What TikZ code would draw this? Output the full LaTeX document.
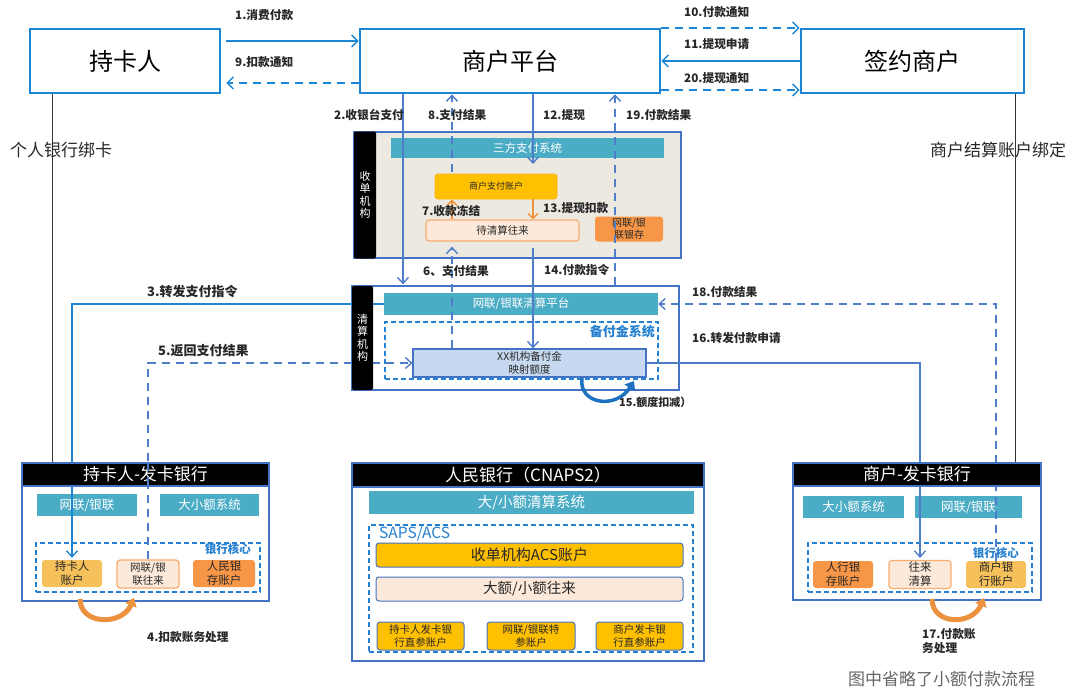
\documentclass[tikz,border=0pt]{standalone}
\usepackage{fontspec}
\setmainfont{Noto Sans CJK SC}
\usetikzlibrary{arrows.meta}

\definecolor{topblue}{RGB}{28,134,214}
\definecolor{lineblue}{RGB}{78,126,202}
\definecolor{boxblue}{RGB}{68,114,196}
\definecolor{dashblue}{RGB}{38,128,208}
\definecolor{barteal}{RGB}{75,172,198}
\definecolor{beige}{RGB}{236,233,224}
\definecolor{cgold}{RGB}{255,192,0}
\definecolor{lgold}{RGB}{246,192,90}
\definecolor{corange}{RGB}{247,150,70}
\definecolor{peach}{RGB}{253,233,217}
\definecolor{peachline}{RGB}{247,172,112}
\definecolor{lblue}{RGB}{198,217,241}
\definecolor{curveblue}{RGB}{30,112,192}
\definecolor{curveorange}{RGB}{236,146,62}
\definecolor{darktext}{RGB}{40,40,40}

\newcommand\fsz[2]{\fontsize{#1}{#2}\selectfont}

\tikzset{
  topbox/.style={draw=topblue, line width=2.6pt, fill=white, inner sep=0pt,
    minimum height=64pt, font=\fsz{24}{28}},
  tarrow/.style={draw=topblue, line width=1.5pt, -{Straight Barb[length=6pt,width=12pt]}},
  mconn/.style={draw=lineblue, line width=1.4pt, -{Straight Barb[length=6pt,width=11pt]}},
  oconn/.style={draw=curveorange, line width=1.4pt, -{Straight Barb[length=5pt,width=10pt]}},
  dsh/.style={dash pattern=on 8pt off 6pt},
  lbl/.style={anchor=west, inner sep=0pt, text=darktext, font=\bfseries\fsz{11.7}{14}},
  outerbox/.style={draw=boxblue, line width=1.2pt, inner sep=0pt},
  tabbox/.style={fill=black, rounded corners=2pt, text=white, align=center,
    inner sep=0pt, font=\fsz{11}{12.5}},
  hdr/.style={fill=black, draw=boxblue, line width=1.2pt, text=white, inner sep=0pt,
    font=\fsz{17}{20}},
  bar/.style={fill=barteal, text=white, inner sep=0pt, font=\fsz{11.5}{14}},
  acct/.style={rounded corners=3pt, align=center, inner sep=0pt, text=darktext,
    font=\fsz{11.5}{14}},
  dbox/.style={draw=dashblue, line width=1.2pt, dash pattern=on 5pt off 3pt, inner sep=0pt},
  blbl/.style={text=dashblue, inner sep=0pt, font=\bfseries\fsz{11.5}{14}},
  bindline/.style={draw=black!80, line width=1pt},
  bigcurve/.style={line width=3.5pt, -{Triangle[length=8pt,width=12pt]}},
}

\begin{document}
\begin{tikzpicture}[x=1pt,y=-1pt]
\useasboundingbox (0,0) rectangle (1080,696);
\fill[white] (0,0) rectangle (1080,696);

% ---------- column and row helpers ----------
\coordinate (xa) at (403,0);
\coordinate (xb) at (452,0);
\coordinate (xc) at (533,0);
\coordinate (xd) at (615,0);
\coordinate (xl) at (52,0);
\coordinate (xr) at (1015,0);
\coordinate (y28) at (0,28);
\coordinate (y41) at (0,41);
\coordinate (y61) at (0,61);
\coordinate (y83) at (0,83);
\coordinate (y90) at (0,90);

% ---------- top parties ----------
\node[topbox, minimum width=190pt] (ch) at (125,61) {持卡人};
\node[topbox, minimum width=300pt] (mp) at (510,61) {商户平台};
\node[topbox, minimum width=223pt] (sm) at (912.5,61) {签约商户};

% ---------- acquirer ----------
\node[outerbox, fill=beige, minimum width=327pt, minimum height=126pt] (acq) at (517.5,195) {};
\node[bar, minimum width=273pt, minimum height=20pt] (tpp) at (527.5,148) {三方支付系统};
\node[acct, fill=cgold, draw=cgold!85!orange, line width=0.8pt, minimum width=122pt,
  minimum height=25pt, font=\fsz{9}{11}] (mpa) at (496,186.5) {商户支付账户};
\node[acct, fill=peach, draw=peachline, line width=1.2pt, minimum width=153pt,
  minimum height=21pt, font=\fsz{10.5}{12}] (dqs) at (502.5,230.5) {待清算往来};
\node[acct, fill=corange, minimum width=68pt, minimum height=25pt,
  font=\fsz{10}{12}] (wly) at (629,229) {网联/银\\联银存};

% ---------- clearing house ----------
\node[outerbox, minimum width=327pt, minimum height=104pt] (clr) at (515.5,338) {};
\node[bar, minimum width=274pt, minimum height=22pt] (wlp) at (521,304) {网联/银联清算平台};
\node[dbox, minimum width=273pt, minimum height=57pt] (bfj) at (521.5,350.5) {};
\node[blbl, anchor=east, font=\bfseries\fsz{13}{15}] (bfjl) at (655,332) {备付金系统};
\node[acct, rounded corners=0pt, fill=lblue, draw=boxblue, line width=1.2pt,
  minimum width=233pt, minimum height=28pt, font=\fsz{10.5}{12.5}] (xx) at (529.5,363) {XX机构备付金\\映射额度};

% ---------- cardholder bank ----------
\node[outerbox, minimum width=247pt, minimum height=138pt] (lb) at (145.5,532) {};
\node[bar, minimum width=100pt, minimum height=22pt, font=\fsz{12.5}{15}] (lbw) at (87,505) {网联/银联};
\node[bar, minimum width=99pt, minimum height=22pt, font=\fsz{12.5}{15}] (lbd) at (209.5,505) {大小额系统};
\node[dbox, minimum width=224pt, minimum height=49pt] (lbc) at (148,567.5) {};
\node[blbl, anchor=east] (lbcl) at (251,549) {银行核心};
\node[acct, fill=lgold, minimum width=60pt, minimum height=27pt] (lba1) at (72,573.5) {持卡人\\账户};
\node[acct, fill=peach, draw=peachline, line width=1.2pt, minimum width=62pt,
  minimum height=28pt, font=\fsz{10.5}{13}] (lba2) at (148,574) {网联/银\\联往来};
\node[acct, fill=corange, minimum width=62pt, minimum height=27pt] (lba3) at (224,573.5) {人民银\\存账户};

% ---------- central bank ----------
\node[outerbox, minimum width=352pt, minimum height=198pt] (pb) at (528,562) {};
\node[bar, minimum width=325pt, minimum height=23pt, font=\fsz{14.5}{17}] (pbt) at (531.5,502.5) {大/小额清算系统};
\node[dbox, minimum width=324pt, minimum height=127pt] (pbd) at (531,588.5) {};
\node[text=dashblue, anchor=west, inner sep=0pt, font=\fsz{15.5}{18}] (saps) at (379,534) {SAPS/ACS};
\node[acct, fill=cgold, draw=boxblue, line width=1pt, minimum width=307pt,
  minimum height=24pt, font=\fsz{15}{18}] (acs) at (529.5,555) {收单机构ACS账户};
\node[acct, fill=peach, draw=boxblue, line width=1pt, minimum width=307pt,
  minimum height=24pt, font=\fsz{14.5}{17}] (dxe) at (529.5,589) {大额/小额往来};
\node[acct, fill=cgold, draw=boxblue, line width=1pt, minimum width=87pt,
  minimum height=28pt, font=\fsz{10.5}{13}] (p1) at (420.5,636) {持卡人发卡银\\行直参账户};
\node[acct, fill=cgold, draw=boxblue, line width=1pt, minimum width=88pt,
  minimum height=28pt, font=\fsz{10.5}{13}] (p2) at (531,636) {网联/银联特\\参账户};
\node[acct, fill=cgold, draw=boxblue, line width=1pt, minimum width=87pt,
  minimum height=28pt, font=\fsz{10.5}{13}] (p3) at (639.5,636) {商户发卡银\\行直参账户};

% ---------- merchant bank ----------
\node[outerbox, minimum width=248pt, minimum height=137pt] (rb) at (917,531.5) {};
\node[bar, minimum width=101pt, minimum height=22pt, font=\fsz{12.5}{15}] (rbd) at (853.5,507) {大小额系统};
\node[bar, minimum width=107pt, minimum height=22pt, font=\fsz{12.5}{15}] (rbw) at (968.5,507) {网联/银联};
\node[dbox, minimum width=224pt, minimum height=49pt] (rbc) at (920,567.5) {};
\node[blbl, anchor=east] (rbcl) at (1019,553) {银行核心};
\node[acct, fill=corange, minimum width=60pt, minimum height=27pt] (rba1) at (843,574.5) {人行银\\存账户};
\node[acct, fill=peach, draw=peachline, line width=1.2pt, minimum width=62pt,
  minimum height=28pt] (rba2) at (920,574.5) {往来\\清算};
\node[acct, fill=lgold, minimum width=60pt, minimum height=27pt] (rba3) at (996,574.5) {商户银\\行账户};

% ---------- binding lines ----------
\draw[bindline] (ch.south -| xl) -- (lb.north -| xl);
\draw[bindline] (sm.south -| xr) -- (rb.north -| xr);
\node[anchor=west, inner sep=0pt, text=darktext, font=\fsz{17}{20}] (bindl) at (10,150) {个人银行绑卡};
\node[anchor=west, inner sep=0pt, text=darktext, font=\fsz{17}{20}] (bindr) at (930,150) {商户结算账户绑定};

% ---------- top messages ----------
\draw[tarrow, shorten <=5pt] (ch.east |- y41) -- (mp.west |- y41);
\draw[tarrow, dsh, shorten >=5pt] (mp.west |- y83) -- (ch.east |- y83);
\draw[tarrow, dsh] (mp.east |- y28) -- (sm.west |- y28);
\draw[tarrow] (sm.west |- y61) -- (mp.east |- y61);
\draw[tarrow, dsh] (mp.east |- y90) -- (sm.west |- y90);
\node[lbl] (t1) at (235,15.5) {1.消费付款};
\node[lbl] (t9) at (235,62) {9.扣款通知};
\node[lbl] (t10) at (684,12) {10.付款通知};
\node[lbl] (t11) at (684,44) {11.提现申请};
\node[lbl] (t20) at (684,78) {20.提现通知};

% ---------- vertical flows ----------
\coordinate (c12) at (533,164);
\draw[mconn, shorten >=1pt] (mp.south -| xa) -- (clr.north -| xa);
\draw[mconn, dsh, shorten <=2pt] (mpa.north -| xb) -- (mp.south -| xb);
\draw[mconn] (mp.south -| xc) -- (c12);
\draw[mconn, dsh] (clr.north -| xd) -- (mp.south -| xd);
\draw[oconn] (mpa.south -| xc) -- (dqs.north -| xc);
\draw[oconn] (dqs.north -| xb) -- (mpa.south -| xb);
\draw[mconn, dsh, shorten >=5pt] (xx.north -| xb) -- (dqs.south -| xb);
\draw[mconn, shorten <=6pt] (dqs.south -| xc) -- (xx.north -| xc);
\node[lbl] (t2) at (334,115) {2.收银台支付};
\node[lbl] (t8) at (428,115) {8.支付结果};
\node[lbl] (t12) at (543,115) {12.提现};
\node[lbl] (t19) at (626,115) {19.付款结果};
\node[lbl] (t7) at (422,211) {7.收款冻结};
\node[lbl] (t13) at (543,208) {13.提现扣款};
\node[lbl] (t6) at (423,271) {6、支付结果};
\node[lbl] (t14) at (544,270) {14.付款指令};

% ---------- bank-side flows ----------
\draw[mconn, draw=topblue, shorten >=2pt] (wlp.west) -| (lba1.north);
\draw[mconn, dsh] (lba2.north) |- (xx.west);
\draw[mconn, shorten >=2pt] (xx.east) -| (rba2.north);
\draw[mconn, dsh] (rba3.north) |- (wlp.east);
\node[lbl, font=\bfseries\fsz{13}{15}] (t3) at (147,292) {3.转发支付指令};
\node[lbl, font=\bfseries\fsz{13}{15}] (t5) at (158,351) {5.返回支付结果};
\node[lbl] (t16) at (692,338) {16.转发付款申请};
\node[lbl] (t18) at (692,292) {18.付款结果};

% ---------- side tabs drawn above the lines ----------
\node[tabbox, minimum width=22pt, minimum height=127pt] (acqtab) at (365,195) {收\\单\\机\\构};
\node[tabbox, minimum width=21pt, minimum height=104pt] (clrtab) at (362.5,338) {清\\算\\机\\构};
\node[hdr, minimum width=247pt, minimum height=23pt] (lbh) at (145.5,474.5) {持卡人-发卡银行};
\node[hdr, minimum width=352pt, minimum height=24pt] (pbh) at (528,475) {人民银行（CNAPS2）};
\node[hdr, minimum width=248pt, minimum height=23pt] (rbh) at (917,474.5) {商户-发卡银行};
% dashed return line crosses the header in front
\draw[draw=lineblue, line width=1.4pt, dsh] (lba2.north -| lba2) ++(0,-74) -- ++(0,-30);

% ---------- ledger turns ----------
\coordinate (q15a) at (582,378);
\coordinate (q15b) at (634,381);
\draw[bigcurve, draw=curveblue] (q15a) .. controls (578,404) and (616,410) .. (q15b);
\node[lbl, font=\bfseries\fsz{11}{13}] (t15) at (619,402) {15.额度扣减）};

\coordinate (q4a) at (80,599);
\coordinate (q4b) at (134,598);
\draw[bigcurve, line width=5pt, draw=curveorange] (q4a) .. controls (80,625) and (122,626) .. (q4b);
\node[lbl] (t4) at (147,637) {4.扣款账务处理};

\coordinate (q17a) at (932,599);
\coordinate (q17b) at (984,598);
\draw[bigcurve, line width=5pt, draw=curveorange] (q17a) .. controls (932,625) and (972,626) .. (q17b);
\node[lbl, align=left, font=\bfseries\fsz{11.7}{14}] (t17) at (922,641) {17.付款账\\务处理};

% ---------- footnote ----------
\node[anchor=west, inner sep=0pt, text=black!60, font=\fsz{17}{20}] (note) at (848,679) {图中省略了小额付款流程};
\end{tikzpicture}
\end{document}
